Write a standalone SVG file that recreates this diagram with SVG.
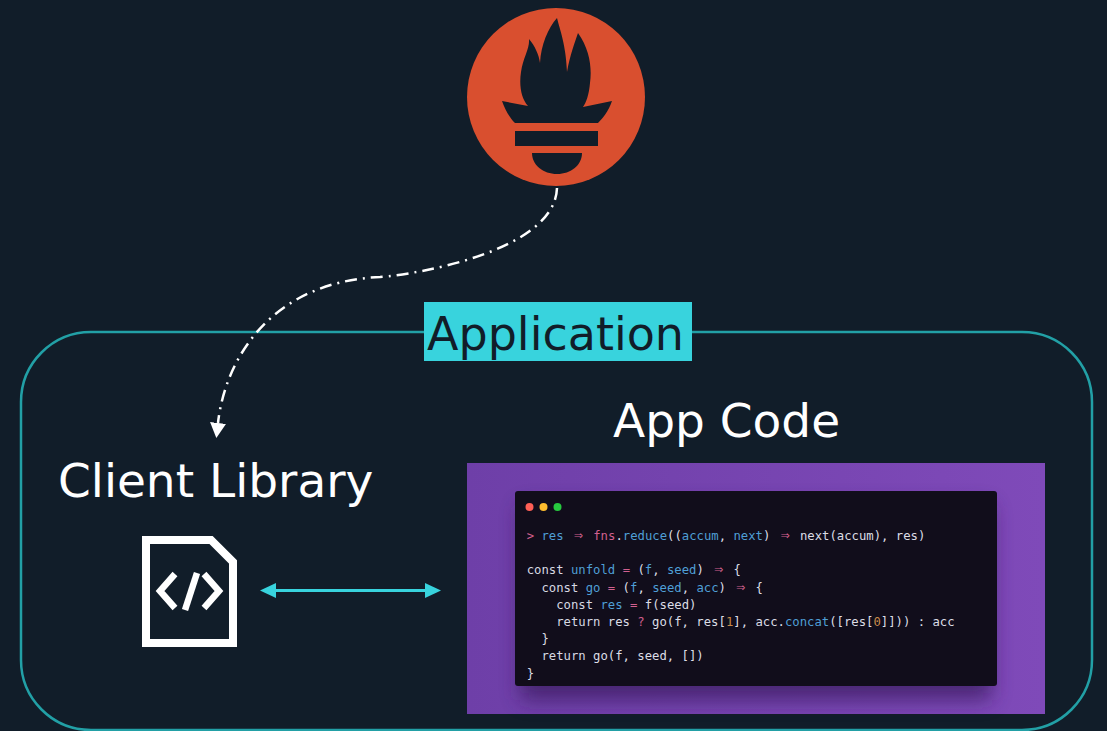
<svg xmlns="http://www.w3.org/2000/svg" width="1107" height="731" viewBox="0 0 1107 731">
  <style>
    .label { font-family: "DejaVu Sans", "Liberation Sans", sans-serif; }
    .code { font-family: "DejaVu Sans Mono", "Liberation Mono", monospace; font-size: 12.25px; fill: #dcdde6; white-space: pre; }
    .kw { fill: #d7d9e2; }
    .id { fill: #4f9fd6; }
    .op { fill: #d2608f; }
    .arr { fill: #d2608f; font-size: 15px; }
    .num { fill: #c98a4a; }
  </style>
  <defs>
    <marker id="arrow-white" viewBox="0 0 15 16" refX="0" refY="8" markerWidth="15" markerHeight="16" markerUnits="userSpaceOnUse" orient="auto">
      <path d="M0,0 L15,8 L0,16 Z" fill="#ffffff"/>
    </marker>
    <marker id="arrow-cyan" viewBox="0 0 16 15" refX="0" refY="7.5" markerWidth="16" markerHeight="15" markerUnits="userSpaceOnUse" orient="auto-start-reverse">
      <path d="M0,0 L16,7.5 L0,15 Z" fill="#38d3dd"/>
    </marker>
    <linearGradient id="panel" x1="0" y1="0" x2="1" y2="0">
      <stop offset="0" stop-color="#6e3fa8"/>
      <stop offset="1" stop-color="#7f4ab9"/>
    </linearGradient>
    <filter id="soft" x="-20%" y="-20%" width="140%" height="160%">
      <feGaussianBlur stdDeviation="10"/>
    </filter>
  </defs>

  <!-- background -->
  <rect width="1107" height="731" fill="#111d29"/>

  <!-- Prometheus logo -->
  <g id="prometheus">
    <circle cx="556" cy="97" r="89" fill="#d94f2f"/>
    <path fill="#111d29" d="M502 101 L528 106 C521 98 519 85 521 72 C523 58 530 48 529 39 C535 46 539 55 540 63 C541 45 548 28 557 18 C560 30 566 45 567 72 C570 55 575 42 578 33 C590 50 592 68 590 83 C589 95 586 103 583 107 L612 101 C608 112 603 118 598 123 L515 123 C510 118 505 110 502 101 Z"/>
    <rect x="515" y="131" width="83" height="15" fill="#111d29"/>
    <path fill="#111d29" d="M532 153 L582 153 C582 165 571 174 557 174 C543 174 532 165 532 153 Z"/>
  </g>

  <!-- application boundary -->
  <g id="application">
    <rect x="21" y="332" width="1071" height="398" rx="70" ry="70" fill="none" stroke="#22a0a6" stroke-width="2.5"/>
    <rect x="424" y="302" width="268" height="59" fill="#38d3dd"/>
    <text class="label" x="427" y="350" font-size="46" fill="#111d29">Application</text>
  </g>

  <!-- client library -->
  <g id="client-library">
    <text class="label" x="58" y="497" font-size="47" fill="#ffffff">Client Library</text>
    <path d="M146 540 L211 540 L233 562 L233 643 L146 643 Z" fill="none" stroke="#ffffff" stroke-width="8" stroke-linejoin="miter"/>
    <g fill="none" stroke="#ffffff" stroke-width="6.5" stroke-linecap="butt" stroke-linejoin="miter">
      <path d="M175 574 L160 591 L175 608"/>
      <path d="M197 573 L185 610"/>
      <path d="M204 574 L219 591 L204 608"/>
    </g>
  </g>

  <!-- app code: the "⇒" ligature fills two monospace cells, hence the dx padding -->
  <g id="app-code">
    <text class="label" x="613" y="437" font-size="47" fill="#ffffff">App Code</text>
    <rect x="467" y="463" width="578" height="251" fill="url(#panel)"/>
    <rect x="520" y="505" width="472" height="195" rx="6" fill="#3a1f60" opacity="0.75" filter="url(#soft)"/>
    <rect x="515" y="491" width="482" height="195" rx="3" fill="#110d1b"/>
    <circle cx="529.5" cy="507" r="4" fill="#ff5f56"/>
    <circle cx="543.5" cy="507" r="4" fill="#ffbd2e"/>
    <circle cx="557.5" cy="507" r="4" fill="#27c93f"/>
    <text class="code" x="526.7" y="540" xml:space="preserve"><tspan class="op">&gt;</tspan> <tspan class="id">res</tspan> <tspan class="arr" dx="2.9">⇒</tspan><tspan dx="2.9"> </tspan><tspan class="op">fns</tspan>.<tspan class="id">reduce</tspan>((<tspan class="id">accum</tspan>, <tspan class="id">next</tspan>) <tspan class="arr" dx="2.9">⇒</tspan><tspan dx="2.9"> </tspan>next(accum), res)</text>
    <text class="code" x="526.7" y="574.4" xml:space="preserve"><tspan class="kw">const</tspan> <tspan class="id">unfold</tspan> <tspan class="op">=</tspan> (<tspan class="id">f</tspan>, <tspan class="id">seed</tspan>) <tspan class="arr" dx="2.9">⇒</tspan><tspan dx="2.9"> </tspan>{</text>
    <text class="code" x="541.4" y="591.6" xml:space="preserve"><tspan class="kw">const</tspan> <tspan class="id">go</tspan> <tspan class="op">=</tspan> (<tspan class="id">f</tspan>, <tspan class="id">seed</tspan>, <tspan class="id">acc</tspan>) <tspan class="arr" dx="2.9">⇒</tspan><tspan dx="2.9"> </tspan>{</text>
    <text class="code" x="556.2" y="608.8" xml:space="preserve"><tspan class="kw">const</tspan> <tspan class="id">res</tspan> <tspan class="op">=</tspan> f(seed)</text>
    <text class="code" x="556.2" y="626" xml:space="preserve"><tspan class="kw">return</tspan> res <tspan class="op">?</tspan> go(f, res[<tspan class="num">1</tspan>], acc.<tspan class="id">concat</tspan>([res[<tspan class="num">0</tspan>]])) : acc</text>
    <text class="code" x="541.4" y="643.2">}</text>
    <text class="code" x="541.4" y="660.4" xml:space="preserve"><tspan class="kw">return</tspan> go(f, seed, [])</text>
    <text class="code" x="526.7" y="677.6">}</text>
  </g>

  <!-- connectors -->
  <g id="connectors">
    <path d="M557 188 C555 250 420 274 380 277 C270 282 225 360 218 423" fill="none" stroke="#ffffff" stroke-width="2.5" stroke-dasharray="12 6 2 6" marker-end="url(#arrow-white)"/>
    <line x1="276" y1="590.5" x2="425" y2="590.5" stroke="#38d3dd" stroke-width="3" marker-start="url(#arrow-cyan)" marker-end="url(#arrow-cyan)"/>
  </g>
</svg>
